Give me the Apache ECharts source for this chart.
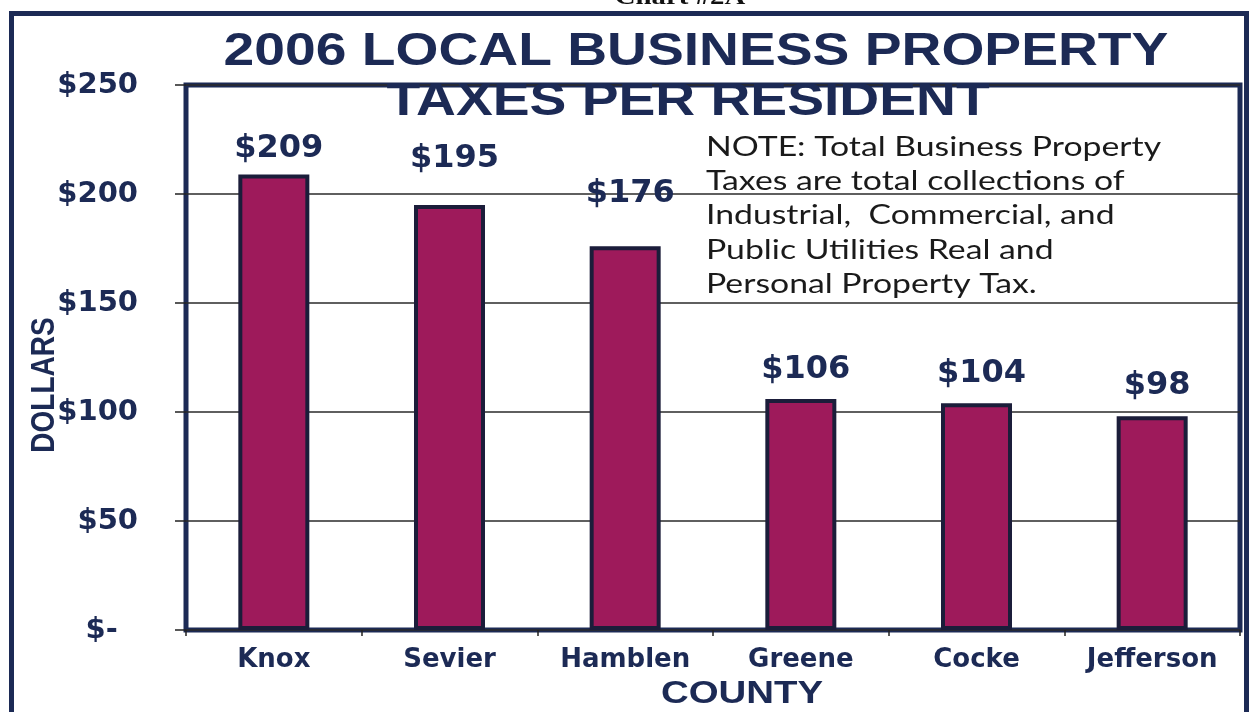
<!DOCTYPE html>
<html>
<head>
<meta charset="utf-8">
<title>2006 Local Business Property Taxes per Resident</title>
<script src="https://cdn.jsdelivr.net/npm/echarts@6/dist/echarts.min.js"></script>
<style>
  html, body { margin: 0; padding: 0; background: #ffffff; }
  #chart { width: 1251px; height: 712px; }
</style>
</head>
<body>
<div id="chart"></div>
<script>
// Business property taxes per resident, 2006, by county
const counties = ['Knox', 'Sevier', 'Hamblen', 'Greene', 'Cocke', 'Jefferson'];
const taxPerResident = [209, 195, 176, 106, 104, 98];
const dollarTicks = [0, 50, 100, 150, 200, 250];

const noteLines = [
  'NOTE: Total Business Property',
  'Taxes are total collections of',
  'Industrial,  Commercial, and',
  'Public Utilities Real and',
  'Personal Property Tax.'
];

const NAVY = '#1c2a55';
const BAR = '#9e1a5b';
const BAR_EDGE = '#1b1d3a';
const STRETCH = 1.2;          // the whole sheet is printed slightly wide

// gap between each bar top and its value label
const labelGap = [10, 30, 37, 13, 14, 15];

const chart = echarts.init(document.getElementById('chart'), null, { renderer: 'canvas' });

chart.setOption({
  animation: false,
  backgroundColor: '#ffffff',
  grid: {
    left: 186, top: 85, right: 11, bottom: 82,
    show: true,
    borderColor: NAVY,
    borderWidth: 5,
    backgroundColor: 'transparent'
  },
  xAxis: {
    type: 'category',
    data: counties,
    axisLine: { show: false },
    axisTick: { show: true, length: 6, lineStyle: { color: '#222', width: 1.5 } },
    axisLabel: {
      margin: 17,
      color: NAVY,
      fontFamily: 'DejaVu Sans',
      fontWeight: 'bold',
      fontSize: 26
    }
  },
  yAxis: {
    type: 'value',
    min: dollarTicks[0],
    max: dollarTicks[dollarTicks.length - 1],
    interval: dollarTicks[1] - dollarTicks[0],
    axisLine: { show: false },
    axisTick: { show: true, inside: false, length: 11, lineStyle: { color: '#222', width: 1.5 } },
    splitLine: { show: true, lineStyle: { color: '#2a2a2a', width: 1.5 } },
    axisLabel: {
      margin: 48,
      color: NAVY,
      fontFamily: 'DejaVu Sans',
      fontWeight: 'bold',
      fontSize: 29,
      formatter: v => (v === 0 ? '$-  ' : '$' + v)
    }
  },
  series: [{
    type: 'bar',
    barWidth: 71,
    data: taxPerResident.map((v, i) => ({ value: v, label: { distance: labelGap[i] } })),
    itemStyle: { color: BAR, borderColor: BAR_EDGE, borderWidth: 4 },
    label: {
      show: true,
      position: 'top',
      offset: [5, 0],
      color: NAVY,
      fontFamily: 'DejaVu Sans',
      fontWeight: 'bold',
      fontSize: 32,
      lineHeight: 32,
      formatter: p => '$' + p.value
    }
  }],
  graphic: [
    // sheet frame
    {
      type: 'rect', z: 10, silent: true,
      shape: { x: 11.5, y: 13.5, width: 1235, height: 740 },
      style: { fill: 'none', stroke: NAVY, lineWidth: 5 }
    },
    // page caption, mostly above the top edge
    {
      type: 'text', z: 10, x: 680, y: 10, scaleX: STRETCH,
      style: {
        text: 'Chart #2A', x: 0, y: 0,
        align: 'center', verticalAlign: 'bottom',
        font: 'bold 24px "Liberation Serif"', fill: '#111'
      }
    },
    // title, two lines
    {
      type: 'text', z: 20, x: 696, y: 52, scaleX: STRETCH,
      style: {
        text: '2006 LOCAL BUSINESS PROPERTY', x: 0, y: 0,
        align: 'center', verticalAlign: 'middle',
        font: 'bold 46px "Liberation Sans"', fill: NAVY
      }
    },
    {
      type: 'text', z: 20, x: 688, y: 102, scaleX: STRETCH,
      style: {
        text: 'TAXES PER RESIDENT', x: 0, y: 0,
        align: 'center', verticalAlign: 'middle',
        font: 'bold 46px "Liberation Sans"', fill: NAVY
      }
    },
    // explanatory note
    {
      type: 'text', z: 20, x: 706, y: 130, scaleX: 1.25,
      style: {
        text: noteLines.join('\n'), x: 0, y: 0,
        align: 'left', verticalAlign: 'top',
        font: '27px Lato', lineHeight: 34.3, fill: '#1a1a1a'
      }
    },
    // axis names
    {
      type: 'text', z: 20, x: 45, y: 385, rotation: Math.PI / 2, scaleY: STRETCH,
      style: {
        text: 'DOLLARS', x: 0, y: 0,
        align: 'center', verticalAlign: 'middle',
        font: 'bold 28px "Liberation Sans"', fill: NAVY
      }
    },
    {
      type: 'text', z: 20, x: 742, y: 694, scaleX: STRETCH,
      style: {
        text: 'COUNTY', x: 0, y: 0,
        align: 'center', verticalAlign: 'middle',
        font: 'bold 32px "Liberation Sans"', fill: NAVY
      }
    }
  ]
});
</script>
</body>
</html>
